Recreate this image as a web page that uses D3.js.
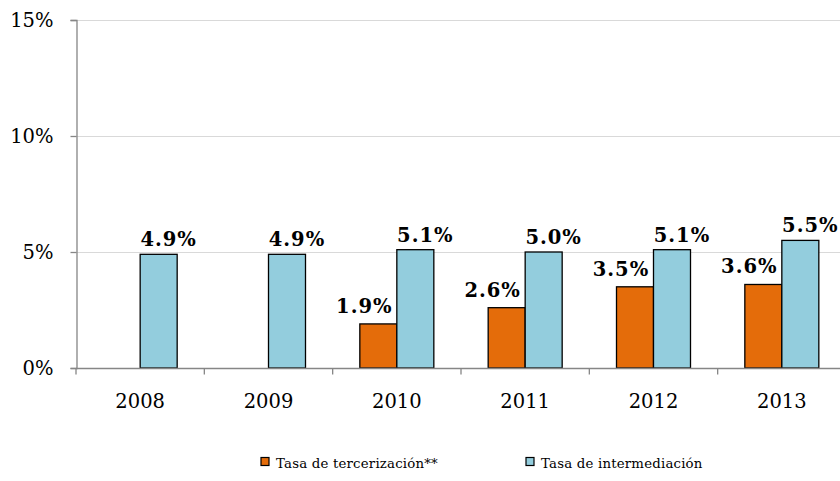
<!DOCTYPE html>
<html>
<head>
<meta charset="utf-8">
<script src="https://cdn.jsdelivr.net/npm/d3@7"></script>
<style>
  html, body { margin: 0; padding: 0; background: #fff; }
  svg { display: block; font-family: "DejaVu Serif", "Liberation Serif", serif; }
</style>
</head>
<body>
<svg id="chart" width="840" height="481"></svg>
<script>
// Years shown on the horizontal axis
const years = ["2008", "2009", "2010", "2011", "2012", "2013"];
// Tasa de tercerización (null where no data exists)
const tercerizacion = [null, null, 1.9, 2.6, 3.5, 3.6];
// Tasa de intermediación
const intermediacion = [4.9, 4.9, 5.1, 5.0, 5.1, 5.5];
// Y axis ticks (percent)
const yTicks = [0, 5, 10, 15];
const seriesNames = ["Tasa de tercerización**", "Tasa de intermediación"];

const colors = ["#E46C0A", "#93CDDD"];
const serif = "DejaVu Serif, Liberation Serif, serif";

const svg = d3.select("#chart");
const margin = { left: 76, top: 20, bottom: 368 };
const plotRight = 846;

const x = d3.scaleBand().domain(years).range([margin.left, plotRight]).paddingInner(0).paddingOuter(0);
const y = d3.scaleLinear().domain([0, 15]).range([margin.bottom, margin.top]);
const barW = 37;

// Gridlines
svg.append("g").selectAll("line").data(yTicks.filter(d => d > 0)).join("line")
  .attr("x1", margin.left).attr("x2", 840)
  .attr("y1", d => y(d) + 0.5).attr("y2", d => y(d) + 0.5)
  .attr("stroke", "#D9D9D9").attr("stroke-width", 1);

// Bars
const g = svg.append("g");
years.forEach((yr, i) => {
  const cx = x(yr) + x.bandwidth() / 2;
  if (tercerizacion[i] != null) {
    g.append("rect")
      .attr("x", cx - barW).attr("y", y(tercerizacion[i]))
      .attr("width", barW).attr("height", y(0) - y(tercerizacion[i]))
      .attr("fill", colors[0]).attr("stroke", "#000").attr("stroke-width", 1.3);
  }
  g.append("rect")
    .attr("x", cx).attr("y", y(intermediacion[i]))
    .attr("width", barW).attr("height", y(0) - y(intermediacion[i]))
    .attr("fill", colors[1]).attr("stroke", "#000").attr("stroke-width", 1.3);
});

// Y axis
const yAxis = d3.axisLeft(y).tickValues(yTicks).tickSize(6).tickPadding(17)
  .tickFormat(d => d + "%");
const ya = svg.append("g").attr("transform", `translate(${margin.left + 0.5},0)`).call(yAxis);
ya.select(".domain").attr("stroke", "#868686").attr("stroke-width", 1.3);
ya.selectAll(".tick line").attr("stroke", "#868686").attr("stroke-width", 1.3);
ya.selectAll("text").attr("font-size", 19.5).attr("fill", "#000")
  .attr("font-family", serif);

// X axis with tick marks at category boundaries
const xa = svg.append("g").attr("transform", `translate(0,${y(0) + 0.5})`);
xa.append("line").attr("x1", margin.left).attr("x2", plotRight)
  .attr("stroke", "#868686").attr("stroke-width", 1.5);
const bounds = years.map(d => x(d)).concat([plotRight]);
xa.selectAll("line.tk").data(bounds).join("line").attr("class", "tk")
  .attr("x1", d => d).attr("x2", d => d).attr("y1", 0).attr("y2", 6)
  .attr("stroke", "#868686").attr("stroke-width", 1.3);
xa.selectAll("text").data(years).join("text")
  .attr("x", d => x(d) + x.bandwidth() / 2).attr("y", 39)
  .attr("text-anchor", "middle").attr("font-size", 19.5).attr("fill", "#000")
  .attr("font-family", serif)
  .text(d => d);

// Value labels
const fmt = v => v.toFixed(1) + "%";
years.forEach((yr, i) => {
  const cx = x(yr) + x.bandwidth() / 2;
  if (tercerizacion[i] != null) {
    svg.append("text")
      .attr("x", cx - barW / 2 - 14).attr("y", y(tercerizacion[i]) - 11)
      .attr("text-anchor", "middle").attr("font-weight", "bold").attr("font-size", 19.5)
      .attr("letter-spacing", 1).attr("font-family", serif)
      .text(fmt(tercerizacion[i]));
  }
  svg.append("text")
    .attr("x", cx + barW / 2 + 10).attr("y", y(intermediacion[i]) - 8)
    .attr("text-anchor", "middle").attr("font-weight", "bold").attr("font-size", 19.5)
    .attr("letter-spacing", 1).attr("font-family", serif)
    .text(fmt(intermediacion[i]));
});

// Legend
const legendX = [261, 526];
const lg = svg.append("g");
seriesNames.forEach((name, i) => {
  lg.append("rect").attr("x", legendX[i]).attr("y", 457.5).attr("width", 8).attr("height", 8)
    .attr("fill", colors[i]).attr("stroke", "#000").attr("stroke-width", 1.2);
  lg.append("text").attr("x", legendX[i] + 15).attr("y", 467.5)
    .attr("font-size", 13.3).attr("letter-spacing", 0.2).attr("fill", "#000")
    .attr("font-family", serif).text(name);
});
</script>
</body>
</html>
